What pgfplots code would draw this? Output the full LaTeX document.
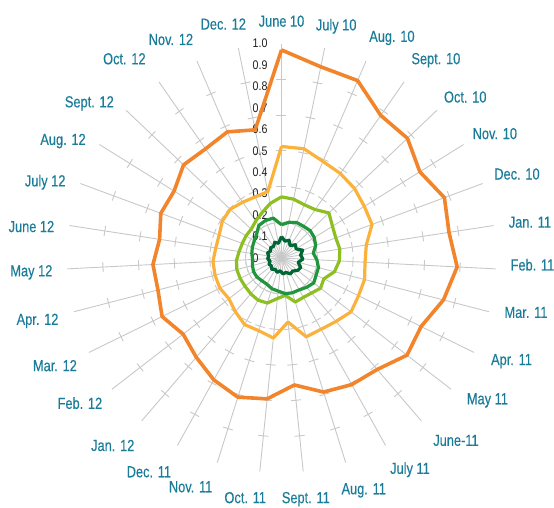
\documentclass[border=0pt]{standalone}
\usepackage{fontspec}
\setmainfont{Liberation Sans}
\newfontfamily\cond[FakeStretch=0.8, FakeBold=0.3]{Liberation Sans}
\newfontfamily\condv[FakeStretch=0.85]{Liberation Sans}
\usepackage{pgfplots}
\pgfplotsset{compat=1.18}
\usepackage{pgfplotstable}
\usetikzlibrary{calc}

\definecolor{cOr}{RGB}{242,132,43}
\definecolor{cYe}{RGB}{251,178,59}
\definecolor{cLg}{RGB}{141,191,34}
\definecolor{cMg}{RGB}{32,150,60}
\definecolor{cDg}{RGB}{0,102,51}
\definecolor{labc}{RGB}{27,124,153}
\definecolor{valc}{RGB}{35,31,32}
\definecolor{spokec}{RGB}{200,200,200}

\pgfplotstableread{
a        o      y      lg     mg     dg
90       0.97   0.52   0.285  0.155  0.10
78.387   0.91   0.52   0.28   0.17   0.08
66.774   0.90   0.49   0.27   0.18   0.09
55.161   0.81   0.48   0.275  0.18   0.07
43.548   0.81   0.47   0.305  0.185  0.09
31.935   0.76   0.455  0.28   0.18   0.08
20.323   0.81   0.45   0.27   0.17   0.105
8.710    0.79   0.40   0.275  0.15   0.09
-2.903   0.82   0.39   0.27   0.165  0.10
-14.516  0.78   0.40   0.255  0.178  0.08
-26.129  0.725  0.40   0.22   0.18   0.10
-37.742  0.74   0.41   0.23   0.19   0.095
-49.355  0.685  0.39   0.215  0.18   0.08
-60.968  0.675  0.38   0.21   0.17   0.085
-72.581  0.655  0.385  0.215  0.17   0.07
-84.194  0.595  0.30   0.175  0.167  0.075
-95.806  0.66   0.375  0.19   0.155  0.06
-107.419 0.68   0.355  0.22   0.15   0.07
-119.032 0.65   0.355  0.225  0.14   0.06
-130.645 0.61   0.33   0.22   0.14   0.07
-142.258 0.58   0.31   0.215  0.145  0.06
-153.871 0.62   0.32   0.215  0.145  0.065
-165.484 0.595  0.32   0.215  0.14   0.055
-177.097 0.60   0.32   0.21   0.135  0.065
-188.710 0.575  0.31   0.20   0.14   0.06
-200.323 0.60   0.31   0.195  0.145  0.07
-211.935 0.59   0.325  0.195  0.15   0.06
-223.548 0.63   0.33   0.195  0.16   0.07
-235.161 0.62   0.317  0.21   0.185  0.065
-246.774 0.64   0.31   0.23   0.19   0.08
-258.387 0.61   0.316  0.26   0.19   0.07
-270     0.97   0.52   0.285  0.155  0.10
}\radar

\begin{document}
\begin{tikzpicture}
% spokes and their tick marks
\foreach \i in {0,...,30}{
  \pgfmathsetmacro\a{90-\i*360/31}
  \draw[spokec, line width=0.9pt] (0,0) -- (\a:214.5pt);
  \foreach \k in {1,...,5}{
    \draw[spokec, line width=0.9pt] ($(\a:\k*35.75pt)+(\a+90:5pt)$) -- ($(\a:\k*35.75pt)+(\a-90:5pt)$);
  }
}
% value labels
\foreach \v/\t in {0/0,0.1/0.1,0.2/0.2,0.3/0.3,0.4/0.4,0.5/0.5,0.6/0.6,0.7/0.7,0.8/0.8,0.9/0.9,1/1.0}{
  \node[anchor=west, inner sep=0pt, text=valc, font=\condv\fontsize{12.5}{13}\selectfont] at (-29pt, \v*214.5pt) {\t};
}
% category labels (with small position adjustments)
\foreach \l/\dx/\dy [count=\i from 0] in {June 10/0/-3, July 10/6/-5, Aug. 10/15/-2, Sept. 10/16/-1, Oct. 10/9/-5, Nov. 10/7/-4, Dec. 10/3/-2, Jan. 11/0/-2, Feb. 11/0/6, Mar. 11/0/9, Apr. 11/8/6, May 11/13/7, June-11/18/0, July 11/11/0, Aug. 11/10/-2, Sept. 11/0/-1, Oct. 11/-12/-1, Nov. 11/-19/0, Dec. 11/-16/-4, Jan. 12/-12/-5, Feb. 12/-10/3, Mar. 12/-7/0, Apr. 12/0/0, May 12/0/-2, June 12/0/-7, July 12/0/-12, Aug. 12/-10/-13, Sept. 12/-16/-13, Oct. 12/-20/2, Nov. 12/-16/-2, Dec. 12/-10/-1}{
  \pgfmathsetmacro\a{90-\i*360/31}
  \pgfmathsetmacro\b{mod(\a+540,360)}
  \pgfmathsetmacro\r{229+5*abs(sin(\a))}
  \node[anchor=\b, inner sep=0pt, text=labc, font=\cond\fontsize{16}{17}\selectfont] at ($(\a:\r pt)+(\dx pt,\dy pt)$) {\l};
}
\begin{axis}[at={(-281.5pt,-249pt)}, anchor=south west, scale only axis,
  width=554pt, height=507pt,
  xmin=-1.31235, xmax=1.27040, ymin=-1.16084, ymax=1.20280,
  hide axis, clip=false]
  \addplot[data cs=polar, cOr, line width=3.6pt, line join=round, no markers] table[x=a, y=o]{\radar};
  \addplot[data cs=polar, cYe, line width=3.2pt, line join=round, no markers] table[x=a, y=y]{\radar};
  \addplot[data cs=polar, cLg, line width=3.2pt, line join=round, no markers] table[x=a, y=lg]{\radar};
  \addplot[data cs=polar, cMg, line width=3.2pt, line join=round, no markers] table[x=a, y=mg]{\radar};
  \addplot[data cs=polar, cDg, line width=3.2pt, line join=round, no markers] table[x=a, y=dg]{\radar};
\end{axis}
\pgfresetboundingbox
\path[use as bounding box] (-281.5pt,-249pt) rectangle (272.5pt,258pt);
\end{tikzpicture}
\end{document}
